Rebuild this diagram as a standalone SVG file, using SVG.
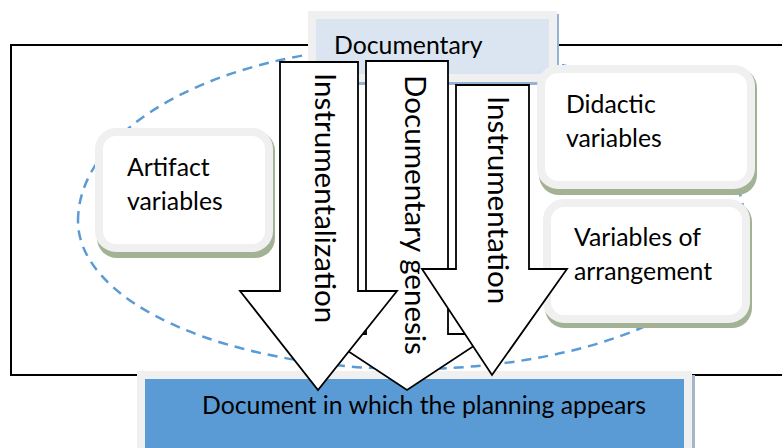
<svg xmlns="http://www.w3.org/2000/svg" width="782" height="448" viewBox="0 0 782 448">
<style>
text { font-family: Lato, "Open Sans", "Liberation Sans", sans-serif; fill: #000; }
.lbl { font-size: 24.8px; }
.arr { font-size: 29.6px; }
.shadow { fill: #a3b195; }
.card { fill: #ffffff; stroke: #f0f0f0; stroke-width: 8; }
.block { fill: #ffffff; stroke: #000; stroke-width: 1.8; stroke-linejoin: miter; }
</style>
<rect width="782" height="448" fill="#ffffff"/>
<g id="frame">
<path d="M782 45 H11 V375 H782" fill="none" stroke="#000" stroke-width="2"/>
</g>
<g id="ellipse">
<path d="M78 221 A333 175 0 0 1 744 221 A333 148 0 0 1 78 221 Z" fill="none" stroke="#5b9bd5" stroke-width="2.5" stroke-dasharray="10 7"/>
</g>
<g id="documentary">
<rect x="311" y="14" width="248" height="71" fill="#95b3d7"/>
<rect x="312" y="15" width="241" height="63" fill="#dbe5f1" stroke="#f0f0f0" stroke-width="8"/>
<text class="lbl" x="334" y="54">Documentary</text>
</g>
<g id="artifact">
<rect class="shadow" x="97" y="131" width="178" height="127" rx="20"/>
<rect class="card" x="99" y="132" width="170" height="116" rx="17"/>
<text class="lbl" x="127" y="176">Artifact</text>
<text class="lbl" x="127" y="210">variables</text>
</g>
<g id="didactic">
<rect class="shadow" x="539" y="68" width="218" height="127" rx="20"/>
<rect class="card" x="541" y="69" width="210" height="116" rx="17"/>
<text class="lbl" x="566" y="113">Didactic</text>
<text class="lbl" x="566" y="147">variables</text>
</g>
<g id="arrangement">
<rect class="shadow" x="545" y="202" width="207" height="126" rx="20"/>
<rect class="card" x="547" y="203" width="199" height="116" rx="17"/>
<text class="lbl" x="574" y="246">Variables of</text>
<text class="lbl" x="574" y="280">arrangement</text>
</g>
<g id="result">
<rect x="140" y="375" width="555" height="80" fill="#a6b6c8"/>
<rect x="141" y="375" width="547" height="80" fill="#5b9bd5" stroke="#f0f0f0" stroke-width="8"/>
<text class="lbl" x="202" y="414">Document in which the planning appears</text>
</g>
<g id="connectors">
<polygon id="arrow-genesis" class="block" points="366,61 448,61 448,334 492,334 407,390 322,334 366,334"/>
<polygon id="arrow-instrumentalization" class="block" points="280,62 358,62 358,291 397,291 318,390 240,291 280,291"/>
<polygon id="arrow-instrumentation" class="block" points="456,85 529,85 529,269 567,269 492,375 422,269 456,269"/>
<text class="arr" transform="translate(315,73) rotate(90)">Instrumentalization</text>
<text class="arr" transform="translate(405,75) rotate(90)">Documentary genesis</text>
<text class="arr" transform="translate(488,96) rotate(90)">Instrumentation</text>
</g>
</svg>
